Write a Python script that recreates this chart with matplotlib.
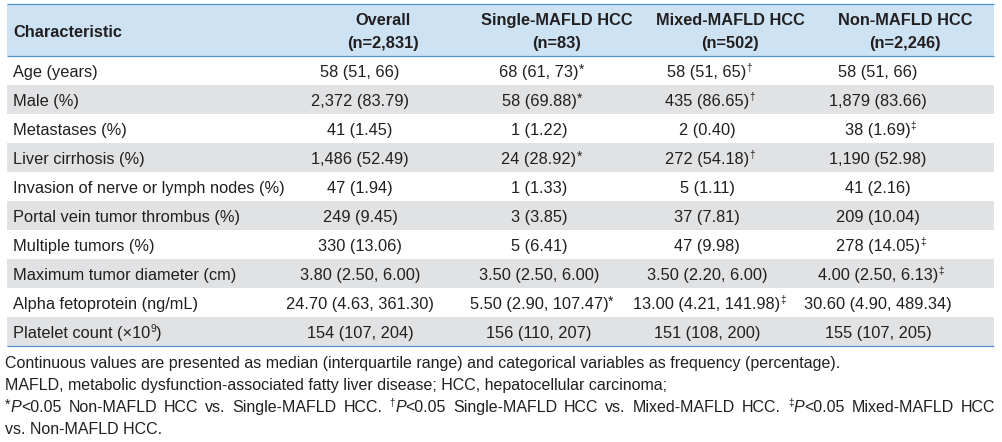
import matplotlib
matplotlib.use("Agg")
import matplotlib.pyplot as plt
from matplotlib.patches import Rectangle
from matplotlib import font_manager

# ---------------- data ----------------
header_titles = ["Characteristic", "Overall", "Single-MAFLD HCC", "Mixed-MAFLD HCC", "Non-MAFLD HCC"]
header_counts = ["", "(n=2,831)", "(n=83)", "(n=502)", "(n=2,246)"]

characteristics = [
    "Age (years)",
    "Male (%)",
    "Metastases (%)",
    "Liver cirrhosis (%)",
    "Invasion of nerve or lymph nodes (%)",
    "Portal vein tumor thrombus (%)",
    "Multiple tumors (%)",
    "Maximum tumor diameter (cm)",
    "Alpha fetoprotein (ng/mL)",
    "Platelet count (\u00d710^9)",
]
overall = ["58 (51, 66)", "2,372 (83.79)", "41 (1.45)", "1,486 (52.49)", "47 (1.94)",
           "249 (9.45)", "330 (13.06)", "3.80 (2.50, 6.00)", "24.70 (4.63, 361.30)", "154 (107, 204)"]
single = ["68 (61, 73)*", "58 (69.88)*", "1 (1.22)", "24 (28.92)*", "1 (1.33)",
          "3 (3.85)", "5 (6.41)", "3.50 (2.50, 6.00)", "5.50 (2.90, 107.47)*", "156 (110, 207)"]
mixed = ["58 (51, 65)\u2020", "435 (86.65)\u2020", "2 (0.40)", "272 (54.18)\u2020", "5 (1.11)",
         "37 (7.81)", "47 (9.98)", "3.50 (2.20, 6.00)", "13.00 (4.21, 141.98)\u2021", "151 (108, 200)"]
non_mafld = ["58 (51, 66)", "1,879 (83.66)", "38 (1.69)\u2021", "1,190 (52.98)", "41 (2.16)",
             "209 (10.04)", "278 (14.05)\u2021", "4.00 (2.50, 6.13)\u2021", "30.60 (4.90, 489.34)", "155 (107, 205)"]

footnote_1 = "Continuous values are presented as median (interquartile range) and categorical variables as frequency (percentage)."
footnote_2 = "MAFLD, metabolic dysfunction-associated fatty liver disease; HCC, hepatocellular carcinoma;"
footnote_3 = [("*", "sup"), ("P", "it"), ("<0.05 Non-MAFLD HCC vs. Single-MAFLD HCC. ", "rm"),
              ("\u2020", "sup"), ("P", "it"), ("<0.05 Single-MAFLD HCC vs. Mixed-MAFLD HCC. ", "rm"),
              ("\u2021", "sup"), ("P", "it"), ("<0.05 Mixed-MAFLD HCC", "rm")]
footnote_4 = "vs. Non-MAFLD HCC."

# ---------------- styling ----------------
W, H = 1002, 442
DPI = 100
TEXT = "#231f20"
HEAD_BG = "#cde3f4"
ROW_BG = "#e1e2e3"
LINE = "#4f93d2"

def has_font(name):
    try:
        font_manager.findfont(font_manager.FontProperties(family=name), fallback_to_default=False)
        return True
    except Exception:
        return False

MAIN = "Liberation Sans" if has_font("Liberation Sans") else "DejaVu Sans"

FS = 11.8   # table text (~16.4 px)
FN = 11.5   # footnotes

fig = plt.figure(figsize=(W / DPI, H / DPI), dpi=DPI)
ax = fig.add_axes([0, 0, 1, 1])
ax.set_xlim(0, W)
ax.set_ylim(H, 0)
ax.axis("off")
renderer = fig.canvas.get_renderer()


def width(s, **kw):
    t1 = ax.text(0, 0, s + "|", **kw)
    t2 = ax.text(0, 0, "|", **kw)
    w = t1.get_window_extent(renderer).width - t2.get_window_extent(renderer).width
    t1.remove(); t2.remove()
    return w


def run_kw(s, style, family, size):
    kw = dict(family=family, fontsize=size, color=TEXT)
    dy = 0
    if style == "sup":
        if s == "*":
            kw["fontsize"] = size * 0.85
            dy = -size * 100 / 72 * 0.18
        else:
            kw["fontsize"] = size * 0.62
            dy = -size * 100 / 72 * 0.38
    elif style == "it":
        kw["style"] = "italic"
    return kw, dy


def draw_runs(x, y, runs, family, size):
    for s, style in runs:
        if not s:
            continue
        kw, dy = run_kw(s, style, family, size)
        ax.text(x, y + dy, s, ha="left", va="baseline", **kw)
        x += width(s, **kw)
    return x


def draw_justified(x0, x1, y, runs, family, size):
    # split runs into words (lists of runs) on spaces
    words, cur = [], []
    for s, style in runs:
        parts = s.split(" ")
        for k, p in enumerate(parts):
            if k > 0:
                if cur:
                    words.append(cur)
                cur = []
            if p:
                cur.append((p, style))
    if cur:
        words.append(cur)
    wsum = 0
    for wd in words:
        for s, style in wd:
            kw, _ = run_kw(s, style, family, size)
            wsum += width(s, **kw)
    gap = (x1 - x0 - wsum) / (len(words) - 1)
    x = x0
    for wd in words:
        x = draw_runs(x, y, wd, family, size) + gap

# ---------------- table geometry ----------------
table_left, table_right = 7, 994
head_top, head_bot = 3.5, 55.5
row_top0, row_h = 56, 29
n_rows = len(characteristics)
label_x = 13
data_cx = [360, 539, 707, 878]
head_cx = [383, 557, 730, 905]

# header background
ax.add_patch(Rectangle((table_left, head_top), table_right - table_left, head_bot - head_top,
                       facecolor=HEAD_BG, edgecolor="none", zorder=0))
# grey banding
for i in range(n_rows):
    if i % 2 == 1:
        ax.add_patch(Rectangle((table_left, row_top0 + i * row_h), table_right - table_left, row_h,
                               facecolor=ROW_BG, edgecolor="none", zorder=0))
bottom = row_top0 + n_rows * row_h
for yy in (head_top, head_bot, bottom - 0.5):
    ax.plot([table_left, table_right], [yy, yy], color=LINE, lw=0.9, zorder=2, solid_capstyle="butt")

# header text
ax.text(label_x, 37, header_titles[0], family=MAIN, fontsize=FS, fontweight="bold",
        color=TEXT, ha="left", va="baseline")
for cx, t, n in zip(head_cx, header_titles[1:], header_counts[1:]):
    ax.text(cx, 25, t, family=MAIN, fontsize=FS, fontweight="bold", color=TEXT, ha="center", va="baseline")
    ax.text(cx, 48, n, family=MAIN, fontsize=FS, fontweight="bold", color=TEXT, ha="center", va="baseline")

# body
marks = ("*", "\u2020", "\u2021")
for i in range(n_rows):
    base = row_top0 + i * row_h + row_h / 2 + 6.5
    lab = characteristics[i]
    if "^" in lab:
        pre, sup = lab.split("^")
        x = draw_runs(label_x, base, [(pre, "rm")], MAIN, FS)
        ax.text(x, base - FS * 100 / 72 * 0.38, sup[:-1], family=MAIN, fontsize=FS * 0.62,
                color=TEXT, ha="left", va="baseline")
        x += width(sup[:-1], family=MAIN, fontsize=FS * 0.62)
        ax.text(x, base, ")", family=MAIN, fontsize=FS, color=TEXT, ha="left", va="baseline")
    else:
        ax.text(label_x, base, lab, family=MAIN, fontsize=FS, color=TEXT, ha="left", va="baseline")
    for cx, col in zip(data_cx, (overall, single, mixed, non_mafld)):
        s = col[i]
        mark = ""
        if s[-1] in marks:
            s, mark = s[:-1], s[-1]
        w = width(s, family=MAIN, fontsize=FS)
        x0 = cx - w / 2
        runs = [(s, "rm")]
        if mark:
            runs.append((mark, "sup"))
        draw_runs(x0, base, runs, MAIN, FS)

# ---------------- footnotes ----------------
fx = 5
ax.text(fx, 368, footnote_1, family=MAIN, fontsize=FN, color=TEXT, ha="left", va="baseline")
ax.text(fx, 390, footnote_2, family=MAIN, fontsize=FN, color=TEXT, ha="left", va="baseline")
draw_justified(fx, 995, 412, footnote_3, MAIN, FN)
ax.text(fx, 434, footnote_4, family=MAIN, fontsize=FN, color=TEXT, ha="left", va="baseline")

fig.savefig("out.png", dpi=DPI)
